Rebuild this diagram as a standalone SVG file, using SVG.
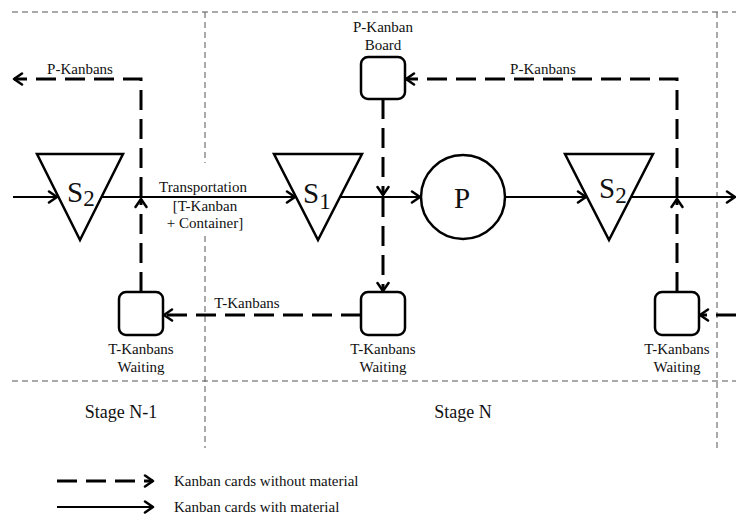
<svg xmlns="http://www.w3.org/2000/svg" width="736" height="515" viewBox="0 0 736 515">
  <style>
    text { font-family: "Liberation Serif", "Times New Roman", serif; fill: #111; }
    .lbl { font-size: 15px; text-anchor: middle; }
    .stage { font-size: 18px; text-anchor: middle; }
    .big { font-size: 29px; }
    .sub { font-size: 23px; }
    .grid { stroke: #555; stroke-width: 1; stroke-dasharray: 6 4; fill: none; }
    .flow { stroke: #000; stroke-width: 2; fill: none; }
    .card { stroke: #000; stroke-width: 3; stroke-dasharray: 20 9; fill: none; }
    .shape { stroke: #000; stroke-width: 2.5; fill: #fff; }
  </style>
  <defs>
    <marker id="arrow" markerUnits="userSpaceOnUse" markerWidth="14" markerHeight="14" refX="11" refY="7" orient="auto">
      <path d="M3,1.5 L11,7 L3,12.5" fill="none" stroke="#000" stroke-width="2.5" stroke-linecap="round" stroke-linejoin="round"/>
    </marker>
  </defs>

  <!-- stage boundaries -->
  <g id="stage-grid">
    <line class="grid" x1="12" y1="12" x2="736" y2="12"/>
    <line class="grid" x1="12" y1="381" x2="736" y2="381"/>
    <line class="grid" x1="205" y1="12" x2="205" y2="163"/>
    <line class="grid" x1="205" y1="236" x2="205" y2="448"/>
    <line class="grid" x1="717" y1="12" x2="717" y2="448"/>
  </g>

  <!-- connectors -->
  <g id="connectors">
    <!-- material flow -->
    <line class="flow" x1="13" y1="197" x2="57" y2="197" marker-end="url(#arrow)"/>
    <line class="flow" x1="101" y1="197" x2="295" y2="197" marker-end="url(#arrow)"/>
    <line class="flow" x1="340" y1="197" x2="420" y2="197" marker-end="url(#arrow)"/>
    <line class="flow" x1="505" y1="197" x2="586" y2="197" marker-end="url(#arrow)"/>
    <line class="flow" x1="631" y1="197" x2="735" y2="197" marker-end="url(#arrow)"/>

    <!-- stage N-1 kanban loop -->
    <path class="card" d="M141,292 L141,199" marker-end="url(#arrow)"/>
    <path class="card" d="M141,197 L141,79 L14,79" marker-end="url(#arrow)"/>

    <!-- stage N kanban loop -->
    <path class="card" d="M383,99 L383,195" marker-end="url(#arrow)"/>
    <path class="card" d="M383,197 L383,291" marker-end="url(#arrow)"/>
    <path class="card" d="M361,315 L164,315" marker-end="url(#arrow)"/>
    <path class="card" d="M677,292 L677,199" marker-end="url(#arrow)"/>
    <path class="card" d="M677,197 L677,79 L406,79" marker-end="url(#arrow)"/>
    <path class="card" d="M736,315 L700,315" marker-end="url(#arrow)"/>

    <text class="lbl" x="80" y="74">P-Kanbans</text>
    <text class="lbl" x="543" y="74">P-Kanbans</text>
    <text class="lbl" x="247" y="308">T-Kanbans</text>
    <text class="lbl" x="203" y="192">Transportation</text>
    <text class="lbl" x="205" y="211">[T-Kanban</text>
    <text class="lbl" x="205" y="228">+ Container]</text>
  </g>

  <!-- nodes -->
  <g id="store-s2-left">
    <polygon class="shape" points="37,154 123,154 80,240"/>
    <text class="big" x="67" y="202">S<tspan class="sub" dy="4">2</tspan></text>
  </g>
  <g id="store-s1">
    <polygon class="shape" points="274,154 362,154 318,240"/>
    <text class="big" x="303" y="203">S<tspan class="sub" dy="6">1</tspan></text>
  </g>
  <g id="process-p">
    <circle class="shape" cx="463" cy="197" r="42"/>
    <text class="big" x="462" y="208" text-anchor="middle">P</text>
  </g>
  <g id="store-s2-right">
    <polygon class="shape" points="565,154 653,154 609,240"/>
    <text class="big" x="599" y="198">S<tspan class="sub" dy="5">2</tspan></text>
  </g>

  <g id="pkanban-board">
    <rect class="shape" x="361" y="57" width="44" height="42" rx="7"/>
    <text class="lbl" x="383" y="32">P-Kanban</text>
    <text class="lbl" x="383" y="50">Board</text>
  </g>
  <g id="tkanban-wait-left">
    <rect class="shape" x="119" y="292" width="44" height="43" rx="7"/>
    <text class="lbl" x="141" y="354">T-Kanbans</text>
    <text class="lbl" x="141" y="372">Waiting</text>
  </g>
  <g id="tkanban-wait-mid">
    <rect class="shape" x="361" y="292" width="44" height="43" rx="7"/>
    <text class="lbl" x="383" y="354">T-Kanbans</text>
    <text class="lbl" x="383" y="372">Waiting</text>
  </g>
  <g id="tkanban-wait-right">
    <rect class="shape" x="655" y="292" width="44" height="43" rx="7"/>
    <text class="lbl" x="677" y="354">T-Kanbans</text>
    <text class="lbl" x="677" y="372">Waiting</text>
  </g>

  <!-- stage names -->
  <g id="stage-labels">
    <text class="stage" x="121" y="418">Stage N-1</text>
    <text class="stage" x="463" y="418">Stage N</text>
  </g>

  <!-- legend -->
  <g id="legend">
    <line class="card" x1="57" y1="481" x2="153" y2="481" stroke-dasharray="21 11" marker-end="url(#arrow)"/>
    <line class="flow" x1="57" y1="507" x2="153" y2="507" marker-end="url(#arrow)"/>
    <text x="174" y="486" font-size="15">Kanban cards without material</text>
    <text x="174" y="512" font-size="15">Kanban cards with material</text>
  </g>
</svg>
